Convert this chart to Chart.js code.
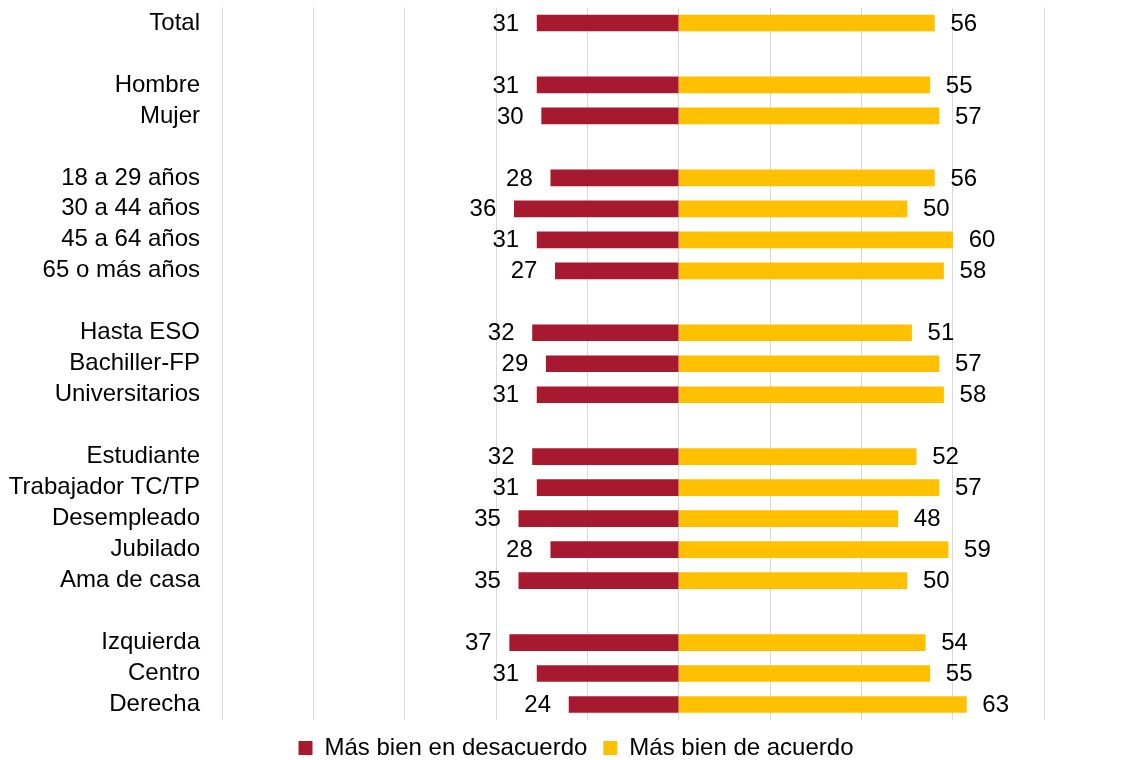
<!DOCTYPE html>
<html>
<head>
<meta charset="utf-8">
<script src="https://cdn.jsdelivr.net/npm/chart.js@4"></script>
<style>
  html, body { margin: 0; padding: 0; background: #ffffff; }
  #wrap { width: 1129px; height: 760px; position: relative; }
</style>
</head>
<body>
<div id="wrap"><canvas id="c"></canvas></div>
<script>
const categories = [
  'Total', '',
  'Hombre', 'Mujer', '',
  '18 a 29 años', '30 a 44 años', '45 a 64 años', '65 o más años', '',
  'Hasta ESO', 'Bachiller-FP', 'Universitarios', '',
  'Estudiante', 'Trabajador TC/TP', 'Desempleado', 'Jubilado', 'Ama de casa', '',
  'Izquierda', 'Centro', 'Derecha'
];
const desacuerdo = [
  31, null,
  31, 30, null,
  28, 36, 31, 27, null,
  32, 29, 31, null,
  32, 31, 35, 28, 35, null,
  37, 31, 24
];
const acuerdo = [
  56, null,
  55, 57, null,
  56, 50, 60, 58, null,
  51, 57, 58, null,
  52, 57, 48, 59, 50, null,
  54, 55, 63
];
const seriesNames = ['Más bien en desacuerdo', 'Más bien de acuerdo'];
const xTicks = { min: -100, max: 80, step: 20 };

const FONT = "'Liberation Sans', Arial, sans-serif";
const RED = '#A6192E';
const YELLOW = '#FFC000';

const valueLabels = {
  id: 'valueLabels',
  afterDatasetsDraw(chart) {
    const ctx = chart.ctx;
    ctx.save();
    ctx.font = '24px ' + FONT;
    ctx.fillStyle = '#000000';
    ctx.textBaseline = 'middle';
    chart.data.datasets.forEach((ds, di) => {
      const meta = chart.getDatasetMeta(di);
      meta.data.forEach((el, i) => {
        const raw = di === 0 ? desacuerdo[i] : acuerdo[i];
        if (raw == null) return;
        if (di === 0) {
          ctx.textAlign = 'right';
          ctx.fillText(String(raw), el.x - 18, el.y + 1);
        } else {
          ctx.textAlign = 'left';
          ctx.fillText(String(raw), el.x + 16, el.y + 1);
        }
      });
    });
    ctx.restore();
  }
};

// shift the legend's band so it is centred like the original
const legendShift = {
  id: 'legendShift',
  afterLayout(chart) {
    if (chart.legend) { chart.legend.left = 108; }
  }
};

new Chart(document.getElementById('c'), {
  type: 'bar',
  data: {
    labels: categories,
    datasets: [
      {
        label: seriesNames[0],
        data: desacuerdo.map(v => v == null ? null : -v),
        backgroundColor: RED,
        borderWidth: 0,
        barThickness: 16
      },
      {
        label: seriesNames[1],
        data: acuerdo,
        backgroundColor: YELLOW,
        borderWidth: 0,
        barThickness: 16
      }
    ]
  },
  options: {
    indexAxis: 'y',
    responsive: true,
    maintainAspectRatio: false,
    animation: false,
    layout: { padding: { top: 7.5, left: 0, right: 85, bottom: -10 } },
    scales: {
      x: {
        stacked: true,
        min: xTicks.min,
        max: xTicks.max,
        ticks: { display: false, stepSize: xTicks.step },
        grid: { color: '#D9D9D9', lineWidth: 1, drawTicks: false },
        border: { display: false }
      },
      y: {
        stacked: true,
        grid: { display: false, drawTicks: true, tickLength: 22 },
        border: { display: false },
        ticks: {
          padding: 0,
          color: '#000000',
          autoSkip: false,
          font: { family: FONT, size: 24, lineHeight: 0.6 }
        },
        afterFit(scale) { scale.width = 222; }
      }
    },
    plugins: {
      legend: {
        position: 'bottom',
        labels: {
          boxWidth: 14,
          boxHeight: 14,
          padding: 16,
          color: '#000000',
          font: { family: FONT, size: 24 }
        }
      },
      tooltip: { enabled: false }
    }
  },
  plugins: [valueLabels, legendShift]
});
</script>
</body>
</html>
